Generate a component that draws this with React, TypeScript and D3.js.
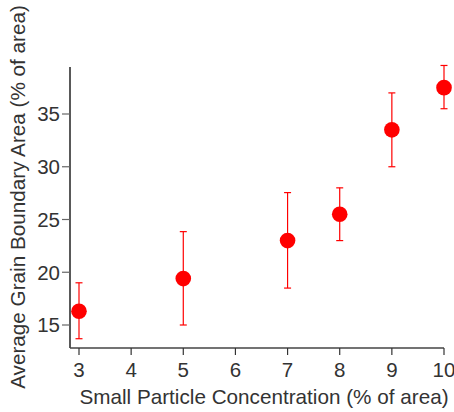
import React, { useRef, useEffect } from "react";
import * as d3 from "d3";

// concentration (% of area) and measured grain boundary area
const concentrations = [3, 5, 7, 8, 9, 10];
const meanArea = [16.3, 19.4, 23.0, 25.5, 33.5, 37.5];
const lowArea = [13.7, 15.0, 18.5, 23.0, 30.0, 35.5];
const highArea = [19.0, 23.85, 27.55, 28.0, 37.0, 39.6];
const xTicks = [3, 4, 5, 6, 7, 8, 9, 10];
const yTicks = [15, 20, 25, 30, 35];

const FONT = "'Liberation Sans', Arial, Helvetica, sans-serif";

const App = () => {
  const svgRef = useRef<SVGSVGElement>(null);

  useEffect(() => {
    if (!svgRef.current) return;
    const svg = d3.select(svgRef.current);
    svg.selectAll("*").remove();

    const width = 454;
    const height = 412;

    const x = d3.scaleLinear().domain([3, 10]).range([79, 444]);
    const y = d3.scaleLinear().domain([15, 35]).range([325, 114]);
    const xLeft = 70;
    const yTop = 67;
    const yBottom = 348;

    svg.attr("width", width).attr("height", height);

    // axis lines
    svg.append("line")
      .attr("x1", xLeft).attr("x2", xLeft)
      .attr("y1", yTop).attr("y2", yBottom)
      .attr("stroke", "#222").attr("stroke-width", 1.5);
    svg.append("line")
      .attr("x1", xLeft).attr("x2", x(10))
      .attr("y1", yBottom).attr("y2", yBottom)
      .attr("stroke", "#444").attr("stroke-width", 1.5);

    // y ticks
    const yAxis = svg.append("g");
    yAxis.selectAll("line")
      .data(yTicks)
      .enter()
      .append("line")
      .attr("x1", xLeft - 8).attr("x2", xLeft)
      .attr("y1", d => y(d)).attr("y2", d => y(d))
      .attr("stroke", "#666").attr("stroke-width", 1.2);
    yAxis.selectAll("text")
      .data(yTicks)
      .enter()
      .append("text")
      .attr("x", xLeft - 10)
      .attr("y", d => y(d))
      .attr("dy", "0.36em")
      .attr("text-anchor", "end")
      .attr("font-family", FONT)
      .attr("font-size", 20.5)
      .attr("fill", "#333")
      .text(d => d);

    // x ticks
    const xAxis = svg.append("g");
    xAxis.selectAll("line")
      .data(xTicks)
      .enter()
      .append("line")
      .attr("x1", d => x(d)).attr("x2", d => x(d))
      .attr("y1", yBottom).attr("y2", yBottom + 7)
      .attr("stroke", "#333").attr("stroke-width", 1.2);
    xAxis.selectAll("text")
      .data(xTicks)
      .enter()
      .append("text")
      .attr("x", d => x(d))
      .attr("y", 377)
      .attr("text-anchor", "middle")
      .attr("font-family", FONT)
      .attr("font-size", 20.5)
      .attr("fill", "#333")
      .text(d => d);

    // axis titles
    svg.append("text")
      .attr("x", 264)
      .attr("y", 404)
      .attr("text-anchor", "middle")
      .attr("font-family", FONT)
      .attr("font-size", 20.7)
      .attr("fill", "#333")
      .text("Small Particle Concentration (% of area)");
    svg.append("text")
      .attr("transform", "translate(25, 197) rotate(-90)")
      .attr("text-anchor", "middle")
      .attr("font-family", FONT)
      .attr("font-size", 20.7)
      .attr("fill", "#333")
      .text("Average Grain Boundary Area (% of area)");

    const points = concentrations.map((c, i) => ({
      c, mean: meanArea[i], lo: lowArea[i], hi: highArea[i],
    }));

    // error bars
    const bars = svg.append("g").attr("stroke", "#ff0000").attr("stroke-width", 1.2);
    bars.selectAll("line.v")
      .data(points)
      .enter()
      .append("line")
      .attr("class", "v")
      .attr("x1", d => x(d.c)).attr("x2", d => x(d.c))
      .attr("y1", d => y(d.lo)).attr("y2", d => y(d.hi));
    bars.selectAll("line.top")
      .data(points)
      .enter()
      .append("line")
      .attr("class", "top")
      .attr("x1", d => x(d.c) - 3.5).attr("x2", d => x(d.c) + 3.5)
      .attr("y1", d => y(d.hi)).attr("y2", d => y(d.hi));
    bars.selectAll("line.bot")
      .data(points)
      .enter()
      .append("line")
      .attr("class", "bot")
      .attr("x1", d => x(d.c) - 3.5).attr("x2", d => x(d.c) + 3.5)
      .attr("y1", d => y(d.lo)).attr("y2", d => y(d.lo));

    // markers
    svg.append("g")
      .selectAll("circle")
      .data(points)
      .enter()
      .append("circle")
      .attr("cx", d => x(d.c))
      .attr("cy", d => y(d.mean))
      .attr("r", 7.8)
      .attr("fill", "#ff0000");
  }, []);

  return (
    <svg
      ref={svgRef}
      style={{ position: "absolute", left: 0, top: 0, display: "block" }}
    ></svg>
  );
};

export default App;
